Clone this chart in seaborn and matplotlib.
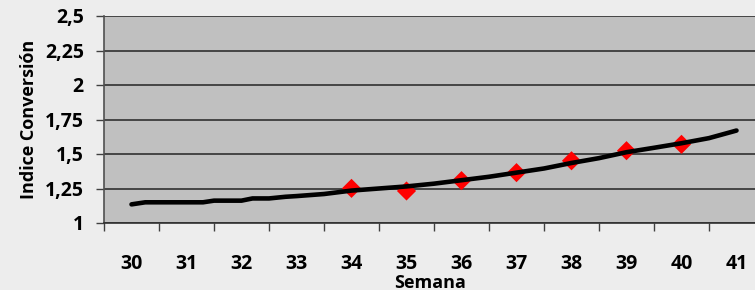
import matplotlib
matplotlib.use("Agg")
import matplotlib.pyplot as plt
import seaborn as sns
import pandas as pd
from matplotlib.ticker import FixedLocator

# ---- data ----
weeks = [30, 31, 32, 33, 34, 35, 36, 37, 38, 39, 40, 41]
y_ticks = [1, 1.25, 1.5, 1.75, 2, 2.25, 2.5]
y_tick_labels = ["1", "1,25", "1,5", "1,75", "2", "2,25", "2,5"]

line_x = [30.0, 30.25, 31.3, 31.5, 32.0, 32.2, 32.5, 32.8, 33.0, 33.5, 34.0, 34.5,
          35.0, 35.5, 36.0, 36.5, 37.0, 37.5, 38.0, 38.5, 39.0, 39.5, 40.0, 40.5, 41.0]
line_y = [1.135, 1.15, 1.15, 1.162, 1.162, 1.178, 1.178, 1.19, 1.195, 1.21, 1.235, 1.25,
          1.265, 1.285, 1.31, 1.335, 1.365, 1.395, 1.435, 1.47, 1.513, 1.545, 1.578, 1.615, 1.67]

obs_weeks = [34, 35, 36, 37, 38, 39, 40]
obs_values = [1.251, 1.232, 1.307, 1.365, 1.451, 1.524, 1.57]

line_df = pd.DataFrame({"Semana": line_x, "IC": line_y})
obs_df = pd.DataFrame({"Semana": obs_weeks, "IC": obs_values})

sns.set_theme(style="white")
plt.rcParams["font.family"] = ["Open Sans", "DejaVu Sans"]
plt.rcParams["font.weight"] = "bold"

fig = plt.figure(figsize=(7.55, 2.9), dpi=100, facecolor="#EDEDED")
ax = fig.add_axes([104 / 755, 67 / 290, 660 / 755, 207 / 290])
ax.set_facecolor("#C0C0C0")

sns.lineplot(data=line_df, x="Semana", y="IC", ax=ax, color="black",
             linewidth=3.3, solid_capstyle="round", zorder=3)
sns.scatterplot(data=obs_df, x="Semana", y="IC", ax=ax, marker="D", color="#FF0000",
                s=95, edgecolor="none", zorder=2)

ax.set_xlim(weeks[0] - 0.5, weeks[-1] + 0.5)
ax.set_ylim(y_ticks[0], y_ticks[-1])

# y axis
ax.yaxis.set_major_locator(FixedLocator(y_ticks))
ax.set_yticklabels(y_tick_labels, fontweight="bold")
ax.yaxis.grid(True, color="#303030", linewidth=1.2)
ax.set_axisbelow(True)
ax.tick_params(axis="y", which="major", left=True, length=5.5, width=1.0,
               color="#404040", direction="out", pad=9, labelsize=14,
               labelcolor="black")

# x axis: labels at week centres, tick marks between categories
ax.xaxis.set_major_locator(FixedLocator(weeks))
ax.set_xticklabels([str(w) for w in weeks], fontweight="bold")
ax.xaxis.set_minor_locator(FixedLocator([w - 0.5 for w in weeks] + [weeks[-1] + 0.5]))
ax.tick_params(axis="x", which="major", bottom=True, length=0, pad=22,
               labelsize=14, labelcolor="black")
ax.tick_params(axis="x", which="minor", bottom=True, length=5.5, width=1.0,
               color="#404040", direction="out")

for side in ["top", "right"]:
    ax.spines[side].set_visible(False)
ax.spines["left"].set_color("#505050")
ax.spines["left"].set_linewidth(1.2)
ax.spines["bottom"].set_color("#303030")
ax.spines["bottom"].set_linewidth(1.2)

ax.set_xlabel("Semana", fontsize=13, fontweight="bold", color="black")
ax.set_ylabel("Indice Conversión", fontsize=13, fontweight="bold", labelpad=5, color="black")
ax.xaxis.set_label_coords((430 - 104) / 660, -0.245)
ax.xaxis.label.set_verticalalignment("top")

fig.savefig("out.png", dpi=100, facecolor=fig.get_facecolor())
